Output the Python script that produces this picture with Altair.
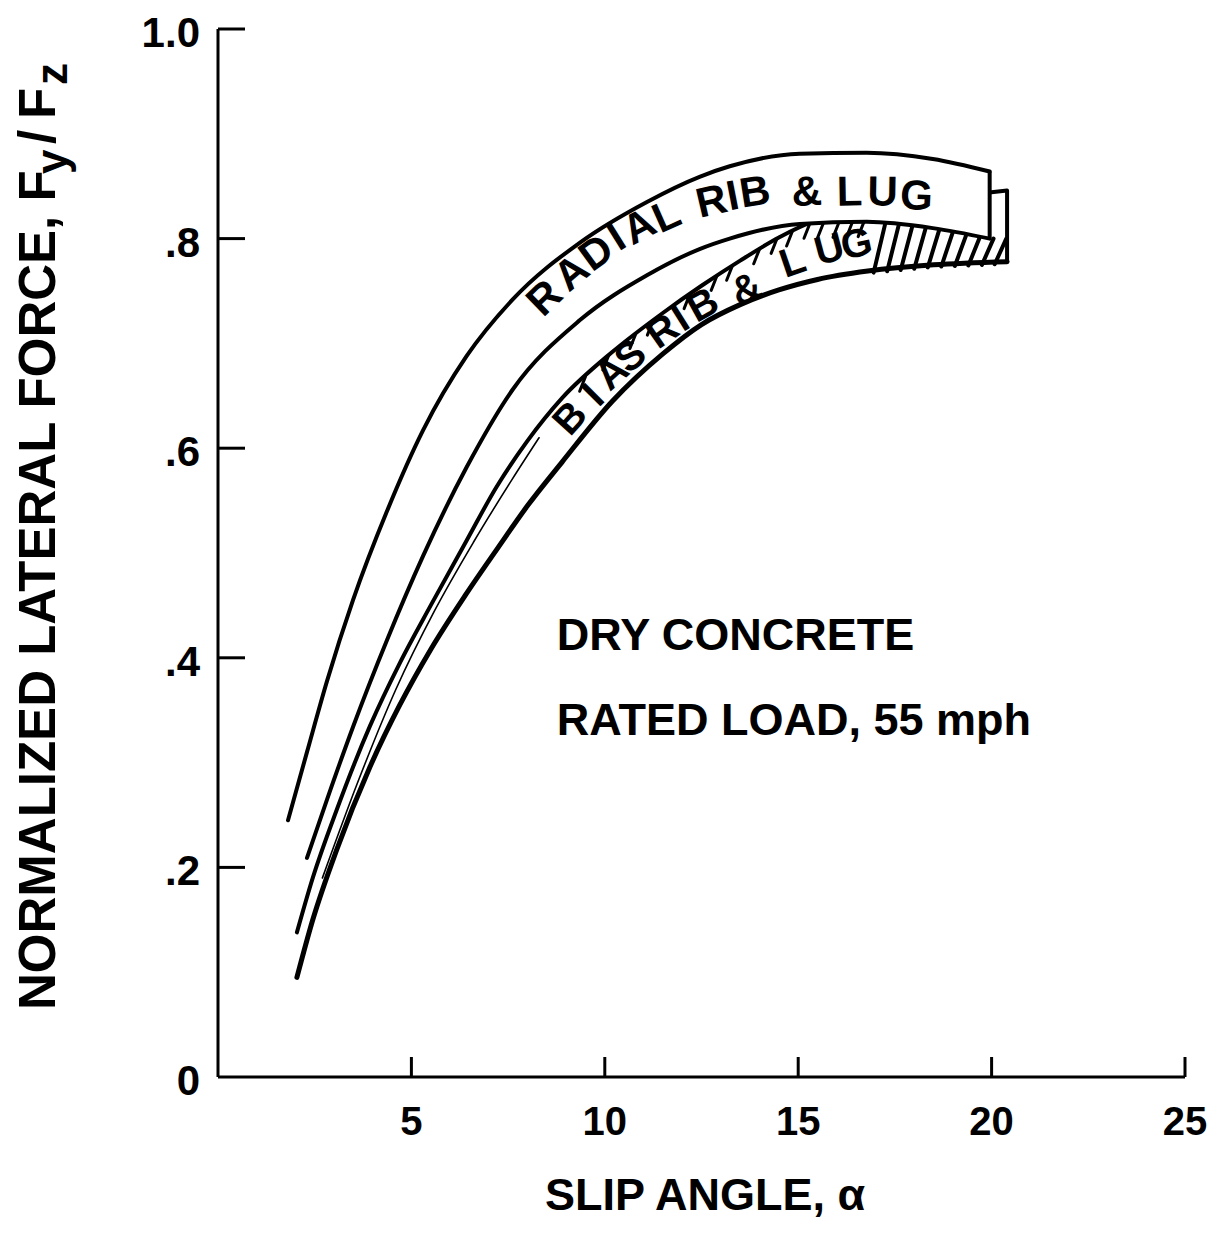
import altair as alt
import pandas as pd
import numpy as np

FONT = "Liberation Sans"
W, H = 967, 1048
X_DOMAIN = [0, 25]
Y_DOMAIN = [0, 1.0]

# ---- curves (slip angle in degrees, Fy/Fz) ----
radial_x = [1.81, 2.30, 2.82, 3.49, 4.37, 5.30, 6.43, 7.62, 9.35, 11.09, 12.45, 13.23, 15.04, 16.77, 18.48, 19.95]
radial_upper = [0.245, 0.310, 0.378, 0.455, 0.540, 0.617, 0.688, 0.742, 0.796, 0.835, 0.859, 0.869, 0.881, 0.882, 0.876, 0.864]
radial_lower = [None, 0.209, 0.265, 0.334, 0.417, 0.497, 0.582, 0.656, 0.722, 0.765, 0.790, 0.800, 0.814, 0.816, 0.810, 0.800]

bias_x = [2.04, 2.45, 3.07, 3.93, 4.70, 5.5, 6.4, 7.2, 8.0, 8.9, 10.2, 11.5, 12.5, 13.5, 14.5, 15.5, 16.8, 18.5, 20.4]
bias_upper = [0.138, 0.190, 0.255, 0.335, 0.395, 0.450, 0.510, 0.563, 0.607, 0.648, 0.692, 0.729, 0.755, 0.779, 0.801, 0.818, 0.830, 0.838, 0.846]
bias_lower = [0.095, 0.150, 0.217, 0.296, 0.355, 0.408, 0.460, 0.503, 0.545, 0.587, 0.645, 0.690, 0.718, 0.737, 0.751, 0.761, 0.769, 0.775, 0.778]

# thin inner hatch stroke in the lower part of the bias band
bias_inner_x = [2.7, 3.6, 4.6, 5.6, 6.6, 7.6, 8.3]
bias_inner_y = [0.19, 0.28, 0.37, 0.445, 0.51, 0.57, 0.61]

# hatch positions (slip angle where each stroke starts)
hatch_full_x = [16.95, 17.3, 17.65, 18.0, 18.35, 18.7, 19.05, 19.4, 19.75, 20.08]
hatch_short_x = [9.5, 10.1, 10.8, 11.25, 12.2, 12.9, 13.3, 14.0, 14.45, 14.85, 15.3, 15.65, 16.05, 16.4, 16.7]

x_ticks = [5, 10, 15, 20, 25]
x_tick_labels = ["5", "10", "15", "20", "25"]
y_ticks = [0, 0.2, 0.4, 0.6, 0.8, 1.0]
y_tick_labels = ["0", ".2", ".4", ".6", ".8", "1.0"]

# band labels: characters, centre positions (data units), tilt (deg, ccw)
radial_chars = ["R", "A", "D", "I", "A", "L", "R", "I", "B", "&", "L", "U", "G"]
radial_cx = [8.45, 9.15, 9.79, 10.31, 10.90, 11.60, 12.76, 13.31, 13.88, 15.22, 16.33, 17.18, 18.06]
radial_cy = [0.743, 0.767, 0.786, 0.801, 0.811, 0.821, 0.835, 0.840, 0.844, 0.844, 0.844, 0.844, 0.840]
radial_tilt = [44, 40, 36, 32, 28, 24, 13, 11, 9, 3, 1, -1, -3]

bias_chars = ["B", "I", "A", "S", "R", "I", "B", "&", "L", "U", "G"]
bias_cx = [9.12, 9.72, 10.20, 10.68, 11.50, 11.97, 12.55, 13.67, 14.86, 15.81, 16.51]
bias_cy = [0.628, 0.650, 0.671, 0.687, 0.711, 0.723, 0.736, 0.751, 0.777, 0.789, 0.794]
bias_tilt = [48, 45, 42, 39, 35, 32, 29, 23, 19, 15, 12]

note_text = ["DRY CONCRETE", "RATED LOAD, 55 mph"]
note_x = [8.76, 8.76]
note_y = [0.407, 0.326]

# ---------------------------------------------------------------------
xs = alt.Scale(domain=X_DOMAIN, nice=False, zero=False)
ys = alt.Scale(domain=Y_DOMAIN, nice=False, zero=False)
INTERP = "monotone"


def X(f):
    return alt.X(f"{f}:Q", scale=xs, axis=None)


def Y(f):
    return alt.Y(f"{f}:Q", scale=ys, axis=None)


radial_df = pd.DataFrame({"x": radial_x, "upper": radial_upper,
                          "lower": [np.nan if v is None else v for v in radial_lower]})
bias_df = pd.DataFrame({"x": bias_x, "upper": bias_upper, "lower": bias_lower})
inner_df = pd.DataFrame({"x": bias_inner_x, "y": bias_inner_y})

rl_x = [x for x, v in zip(radial_x, radial_lower) if v is not None]
rl_y = [v for v in radial_lower if v is not None]


def top_edge(x):
    return min(np.interp(x, rl_x, rl_y), np.interp(x, bias_x, bias_upper))


hatch_rows = []
for hx in hatch_full_x:
    tx = hx + 0.30
    hatch_rows.append({"x": hx, "y": float(np.interp(hx, bias_x, bias_lower)) - 0.002,
                       "x2": tx, "y2": float(top_edge(tx)), "w": 4.0})
for hx in hatch_short_x:
    ty = float(top_edge(hx))
    hatch_rows.append({"x": hx - 0.15, "y": ty - 0.014, "x2": hx, "y2": ty, "w": 3.0})
hatch_df = pd.DataFrame(hatch_rows)

line_kw = dict(color="black", interpolate=INTERP, strokeCap="round", strokeJoin="round")

hatch = alt.Chart(hatch_df).mark_rule(color="black", strokeCap="round").encode(
    x=X("x"), y=Y("y"), x2="x2:Q", y2="y2:Q", strokeWidth=alt.StrokeWidth("w:Q", scale=None))

inner = alt.Chart(inner_df).mark_line(strokeWidth=1.6, **line_kw).encode(x=X("x"), y=Y("y"))

bias_up = alt.Chart(bias_df).mark_line(strokeWidth=4, **line_kw).encode(x=X("x"), y=Y("upper"))
bias_lo = alt.Chart(bias_df).mark_line(strokeWidth=5, **line_kw).encode(x=X("x"), y=Y("lower"))
bias_end = alt.Chart(pd.DataFrame({"x": [bias_x[-1]], "lo": [bias_lower[-1]], "up": [bias_upper[-1]]})).mark_rule(
    color="black", strokeWidth=4).encode(x=X("x"), y=Y("lo"), y2="up:Q")

radial_fill = alt.Chart(radial_df).transform_filter("isValid(datum.lower)").mark_area(
    color="white", opacity=1, interpolate=INTERP).encode(x=X("x"), y=Y("upper"), y2="lower:Q")
radial_up = alt.Chart(radial_df).mark_line(strokeWidth=4, **line_kw).encode(x=X("x"), y=Y("upper"))
radial_lo = alt.Chart(radial_df).transform_filter("isValid(datum.lower)").mark_line(
    strokeWidth=4, **line_kw).encode(x=X("x"), y=Y("lower"))
radial_end = alt.Chart(pd.DataFrame({"x": [radial_x[-1]], "lo": [radial_lower[-1]], "up": [radial_upper[-1]]})).mark_rule(
    color="black", strokeWidth=4).encode(x=X("x"), y=Y("lo"), y2="up:Q")

# ---- axes drawn by hand (inward ticks) ----
axis_df = pd.DataFrame({"x0": [X_DOMAIN[0]], "x1": [X_DOMAIN[1]], "y0": [Y_DOMAIN[0]], "y1": [Y_DOMAIN[1]]})
x_line = alt.Chart(axis_df).mark_rule(color="black", strokeWidth=3).encode(x=X("x0"), x2="x1:Q", y=Y("y0"))
y_line = alt.Chart(axis_df).mark_rule(color="black", strokeWidth=3).encode(x=X("x0"), y=Y("y0"), y2="y1:Q")

xticks = alt.Chart(pd.DataFrame({"v": x_ticks})).mark_rule(color="black", strokeWidth=3).encode(
    x=X("v"), y=alt.value(H), y2=alt.value(H - 20))
yticks = alt.Chart(pd.DataFrame({"v": [v for v in y_ticks if v > 0]})).mark_rule(color="black", strokeWidth=3).encode(
    y=Y("v"), x=alt.value(0), x2=alt.value(27))

xlabels = alt.Chart(pd.DataFrame({"v": x_ticks, "t": x_tick_labels})).mark_text(
    font=FONT, fontSize=40, fontWeight="bold", color="black", align="center", baseline="alphabetic").encode(
    x=X("v"), y=alt.value(H + 58), text="t:N")
ylabels = alt.Chart(pd.DataFrame({"v": y_ticks, "t": y_tick_labels})).mark_text(
    font=FONT, fontSize=42, fontWeight="bold", color="black", align="right", baseline="alphabetic", dy=18).encode(
    y=Y("v"), x=alt.value(-18), text="t:N")


def band_text(chars, cx, cy, tilt, size):
    df = pd.DataFrame({"ch": chars, "x": cx, "y": cy, "a": [(360 - t) % 360 for t in tilt]})
    return alt.Chart(df).mark_text(font=FONT, fontSize=size, fontWeight="bold", color="black",
                                   align="center", baseline="middle").encode(
        x=X("x"), y=Y("y"), text="ch:N", angle=alt.Angle("a:Q", scale=None))


radial_label = band_text(radial_chars, radial_cx, radial_cy, radial_tilt, 42)
bias_label = band_text(bias_chars, bias_cx, bias_cy, bias_tilt, 40)

notes = alt.Chart(pd.DataFrame({"t": note_text, "x": note_x, "y": note_y})).mark_text(
    font=FONT, fontSize=45, fontWeight="bold", color="black", align="left", baseline="alphabetic").encode(
    x=X("x"), y=Y("y"), text="t:N")


def piece(txt, px, py, size, angle=0, align="left"):
    kw = dict(font=FONT, fontSize=size, fontWeight="bold", color="black", align=align, baseline="alphabetic")
    if angle:
        kw["angle"] = angle
    return alt.Chart(pd.DataFrame({"t": [txt]})).mark_text(**kw).encode(
        text="t:N", x=alt.value(px), y=alt.value(py))


# axis titles (y title built in pieces so the subscripts sit low)
ytitle = [
    piece("NORMALIZED LATERAL FORCE, F", -163, 981, 51, 270),
    piece("y", -151, 145, 44, 270),
    piece("/", -163, 115, 51, 270),
    piece("F", -163, 90, 51, 270),
    piece("z", -151, 56, 44, 270),
]
xtitle = piece("SLIP ANGLE, \u03b1", 487, 1181, 45, 0, "center")

chart = alt.layer(
    hatch, inner, bias_up, bias_lo, bias_end,
    radial_fill, radial_up, radial_lo, radial_end,
    x_line, y_line, xticks, yticks, xlabels, ylabels,
    radial_label, bias_label, notes, xtitle, *ytitle,
).properties(
    width=W, height=H,
    autosize=alt.AutoSizeParams(type="none"),
    padding={"left": 210, "top": 21, "right": 25, "bottom": 150},
    background="white",
).configure_view(stroke=None)

chart.save("out.html", embed_options={"renderer": "svg", "actions": False})
